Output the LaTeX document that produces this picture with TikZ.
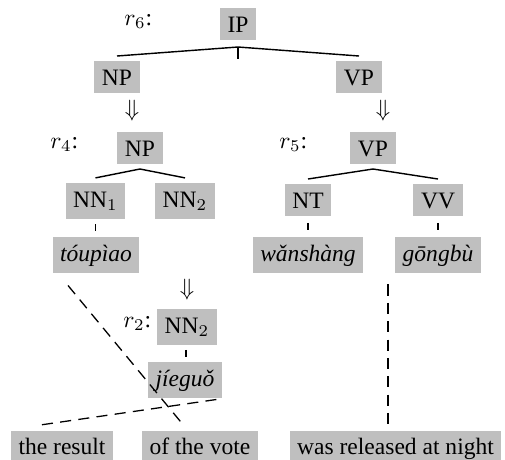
\documentclass[tikz,border=0pt]{standalone}
\usepackage{fontspec}
\setmainfont{Liberation Serif}
\usetikzlibrary{calc}
\tikzset{
  lbl/.style={fill=black!25, inner xsep=3.2pt, inner ysep=3pt, text height=7.2pt, text depth=0pt},
  lblsub/.style={lbl, text depth=1.8pt},
  word/.style={lbl, text height=7.8pt, text depth=2.3pt, inner ysep=2.6pt, font=\itshape},
  eng/.style={lbl, text depth=2pt, inner ysep=2.6pt},
  rulelbl/.style={anchor=base west, inner sep=0pt},
  darrow/.style={inner sep=0pt},
  tree/.style={line width=0.6pt},
  link/.style={line width=0.55pt, dash pattern=on 4.7pt off 3.1pt},
  tick/.style={line width=0.55pt},
}
\begin{document}
\begin{tikzpicture}[x=0.425pt,y=-0.425pt]
\useasboundingbox (0,0) rectangle (505,459);
% nodes
\node[lbl] (IP) at (238,24) {IP};
\node[lbl] (NPa) at (117,77) {NP};
\node[lbl] (VPa) at (359,77) {VP};
\node[lbl] (NPb) at (140,148) {NP};
\node[lbl] (VPb) at (373,148) {VP};
\node[lblsub] (NN1) at (95.5,201) {NN$_1$};
\node[lblsub] (NN2) at (185,201) {NN$_2$};
\node[lbl] (NT) at (308,200) {NT};
\node[lbl] (VV) at (438,200) {VV};
\node[word] (tou) at (96,255) {tóupìao};
\node[word] (wan) at (308,255) {wǎnshàng};
\node[word] (gong) at (438,255) {gōngbù};
\node[lblsub] (NN2b) at (187,327) {NN$_2$};
\node[word] (jie) at (185,380) {jíeguǒ};
\node[eng] (res) at (62,448) {the result};
\node[eng] (vote) at (200,448) {of the vote};
\node[eng] (rel) at (395.5,448) {was released at night};
% rule labels
\node[rulelbl] (r6) at (124,25) {$r_6$:};
\node[rulelbl] (r4) at (50,148) {$r_4$:};
\node[rulelbl] (r5) at (279,148) {$r_5$:};
\node[rulelbl] (r2) at (123,327) {$r_2$:};
% derivation arrows
\node[darrow] (da1) at (132,111) {$\Downarrow$};
\node[darrow] (da2) at (383,111) {$\Downarrow$};
\node[darrow] (da3) at (187,290) {$\Downarrow$};
% tree lines
\coordinate (ipA) at ($(IP.south)+(0,7)$);
\draw[tree] ($(NPa.north)+(0,-5)$) -- (ipA) -- ($(VPa.north)+(0,-5)$);
\draw[tree] (ipA) -- ++(0,12);
\draw[tree] ($(NN1.north)+(0,-5)$) -- ($(NPb.south)+(0,5)$) -- ($(NN2.north)+(0,-5)$);
\draw[tree] ($(NT.north)+(0,-5)$) -- ($(VPb.south)+(0,5)$) -- ($(VV.north)+(0,-5)$);
% short ticks
\draw[tick] ($(NN1.south)!.5!(tou.north)+(0,-3.5)$) -- ++(0,7);
\draw[tick] ($(NT.south)!.5!(wan.north)+(0,-3.5)$) -- ++(0,7);
\draw[tick] ($(VV.south)!.5!(gong.north)+(0,-3.5)$) -- ++(0,7);
\draw[tick] ($(NN2b.south)!.5!(jie.north)+(0,-3.5)$) -- ++(0,7);
% alignment links
\coordinate (l1s) at ($(tou.south)+(-28,12)$);
\coordinate (l1e) at ($(vote.north)+(-17,-6)$);
\coordinate (l2s) at ($(jie.south east)+(-6,1)$);
\coordinate (l2e) at ($(res.north)+(-26,-5)$);
\coordinate (l3s) at ($(gong.south)+(-50,11)$);
\coordinate (l3e) at ($(rel.north)+(-7.5,-6)$);
\draw[link] (l1s) -- (l1e);
\draw[link] (l2s) -- (l2e);
\draw[link] (l3s) -- (l3e);
\end{tikzpicture}
\end{document}
